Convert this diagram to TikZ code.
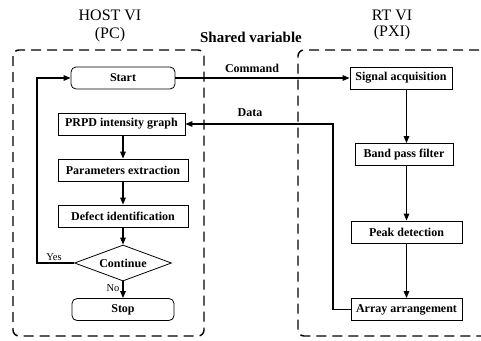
\documentclass[tikz,border=0pt]{standalone}
\usepackage{fontspec}
\setmainfont{Liberation Serif}
\usetikzlibrary{shapes.geometric,arrows.meta}

\begin{document}
\begin{tikzpicture}[x=1pt,y=-1pt,
  box/.style={draw, line width=0.8pt, font=\bfseries\fontsize{12}{14}\selectfont,
              minimum height=22pt, inner sep=2pt},
  rbox/.style={box, rounded corners=5pt},
  flow/.style={line width=1.2pt, -{Triangle[length=7pt,width=5.5pt]}},
  plain/.style={line width=1.2pt},
  region/.style={draw, dash pattern=on 10pt off 6pt, line width=1.4pt, rounded corners=6pt},
  title/.style={font=\fontsize{16}{18}\selectfont, inner sep=0pt},
  lbl/.style={font=\bfseries\fontsize{12}{14}\selectfont, inner sep=0pt},
  small/.style={font=\fontsize{10.5}{12}\selectfont, inner sep=0pt}]
\clip (0,0) rectangle (481,340);

% headings
\node[title] (host) at (110,15) {HOST VI};
\node[title] (pc) at (110,35) {(PC)};
\node[title] (rt) at (392,15) {RT VI};
\node[title] (pxi) at (392,33) {(PXI)};
\node[title, font=\bfseries\fontsize{15}{18}\selectfont] (shared) at (251,37) {Shared variable};

% dashed regions
\draw[region] (13,50) rectangle (204,336);
\draw[region] (495,50) -- (298,50) -- (298,336) -- (495,336);

% host side
\node[rbox, minimum width=104pt] (start) at (123,78) {Start};
\node[box, minimum width=127pt] (prpd) at (121.5,124) {PRPD intensity graph};
\node[box, minimum width=130pt] (param) at (123,170) {Parameters extraction};
\node[box, minimum width=130pt] (defect) at (123,216) {Defect identification};
\node[draw, diamond, line width=0.8pt, aspect=2.7, minimum width=97pt, minimum height=36pt,
      inner sep=0pt, font=\bfseries\fontsize{12}{14}\selectfont] (cont) at (123,263) {Continue};
\node[rbox, minimum width=102pt] (stop) at (123,309.5) {Stop};

% target side
\node[box, minimum width=102pt] (sig) at (401,78) {Signal acquisition};
\node[box, minimum width=98pt] (bpf) at (404,154.5) {Band pass filter};
\node[box, minimum width=111pt] (peak) at (406.5,232) {Peak detection};
\node[box, minimum width=111pt] (arr) at (406.5,309.5) {Array arrangement};

% host flow
\draw[flow] (prpd.south -| start.south) -- (param.north);
\draw[flow] (param.south) -- (defect.north);
\draw[flow] (defect.south) -- (cont.north);
\draw[flow] (cont.south) -- (stop.north);
\coordinate (yesx) at (37,0);
\draw[flow] (cont.west) -- (cont.west -| yesx) |- (start.west);
\node[small] (yes) at (54,257) {Yes};
\node[small] (no) at (113,288) {No};

% target flow
\draw[flow] (sig.south -| peak.north) -- (bpf.north -| peak.north);
\draw[flow] (bpf.south -| peak.north) -- (peak.north);
\draw[flow] (peak.south) -- (arr.north);

% shared variable links
\draw[flow] (start.east) -- (sig.west);
\node[lbl] (cmd) at (252,68) {Command};
\coordinate (dturn) at (333,0);
\draw[flow] (arr.west) -- (arr.west -| dturn) |- (prpd.east);
\node[lbl] (data) at (250,113) {Data};
\end{tikzpicture}
\end{document}
